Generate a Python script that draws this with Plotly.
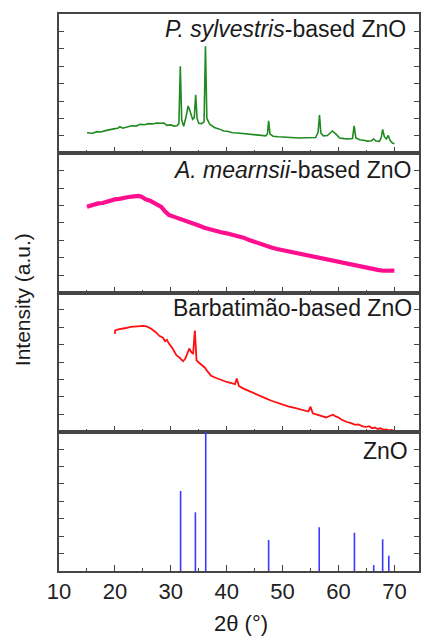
import plotly.graph_objects as go
from plotly.subplots import make_subplots

# ---------------- data (arbitrary intensity units, 0-8 per panel) ----
green_x = [15.0, 16.0, 16.8, 17.5, 18.3, 19.0, 19.8, 20.5, 20.9, 21.4, 22.2, 23.0, 23.8, 24.5, 25.3, 26.0,
           26.8, 27.5, 28.2, 28.8, 29.3, 30.0, 30.6, 31.1, 31.45, 31.7, 31.95, 32.3, 32.7, 33.1, 33.5,
           33.9, 34.2, 34.45, 34.7, 35.0, 35.5, 35.95, 36.2, 36.45, 37.0, 37.8, 38.6, 39.5, 40.3, 41.0,
           42.0, 43.0, 44.0, 45.0, 46.0, 47.0, 47.3, 47.5, 47.75, 48.3, 49.2, 50.0, 51.0, 52.0, 53.0,
           54.0, 55.0, 55.9, 56.35, 56.6, 56.85, 57.3, 58.0, 58.9, 59.6, 60.2, 61.0, 61.8, 62.5, 62.8,
           63.1, 63.8, 64.5, 65.2, 65.9, 66.3, 66.7, 67.3, 67.65, 67.9, 68.2, 68.55, 68.9, 69.2, 69.6, 70.0]
green_y = [1.18, 1.15, 1.24, 1.22, 1.30, 1.33, 1.40, 1.44, 1.52, 1.44, 1.52, 1.58, 1.56, 1.66, 1.64, 1.70,
           1.68, 1.74, 1.72, 1.73, 1.60, 1.63, 1.56, 1.58, 1.70, 4.99, 1.90, 1.55, 2.05, 2.72, 2.35,
           1.95, 2.05, 3.36, 2.00, 1.72, 1.70, 1.80, 6.14, 2.00, 1.65, 1.48, 1.40, 1.28, 1.25, 1.18,
           1.16, 1.12, 1.08, 1.06, 1.02, 1.00, 1.12, 1.86, 1.10, 0.98, 0.95, 0.93, 0.92, 0.91, 0.88,
           0.89, 0.88, 0.90, 1.20, 2.20, 1.15, 1.00, 1.02, 1.28, 1.08, 0.88, 0.84, 0.82, 0.85, 1.57,
           0.88, 0.78, 0.75, 0.70, 0.72, 0.82, 0.70, 0.68, 0.90, 1.37, 0.95, 0.82, 1.02, 0.75, 0.60, 0.54]

pink_x = [15.0, 15.5, 16.2, 17.0, 17.8, 18.5, 19.3, 20.0, 20.8, 21.5, 22.2, 23.0, 23.6, 24.2, 24.8,
          25.5, 26.3, 27.0, 27.6, 28.3, 29.0, 29.7, 30.5, 31.3, 32.0, 33.0, 34.0, 35.0, 36.0, 37.0,
          38.0, 39.0, 40.0, 41.0, 42.0, 43.0, 44.0, 45.0, 46.0, 47.0, 48.0, 49.0, 50.0, 51.0, 52.0,
          53.0, 54.0, 55.0, 56.0, 57.0, 58.0, 59.0, 60.0, 61.0, 62.0, 63.0, 64.0, 65.0, 66.0, 67.0,
          68.0, 69.0, 70.0]
pink_y = [4.93, 4.98, 5.05, 5.12, 5.14, 5.22, 5.26, 5.35, 5.38, 5.45, 5.47, 5.51, 5.56, 5.55, 5.50,
          5.35, 5.28, 5.15, 5.05, 4.92, 4.65, 4.45, 4.36, 4.28, 4.20, 4.08, 3.95, 3.85, 3.72, 3.62,
          3.55, 3.46, 3.40, 3.33, 3.23, 3.15, 3.02, 2.90, 2.80, 2.70, 2.58, 2.50, 2.43, 2.36, 2.30,
          2.24, 2.18, 2.10, 2.04, 1.96, 1.90, 1.83, 1.74, 1.68, 1.60, 1.54, 1.48, 1.42, 1.35, 1.30,
          1.25, 1.24, 1.26]

red_x = [20.0, 20.05, 20.6, 21.3, 22.0, 22.8, 23.5, 24.3, 25.1, 25.8, 26.5, 27.2, 28.0, 28.6, 28.95,
         29.3, 29.7, 30.3, 31.0, 31.6, 32.2, 32.6, 33.0, 33.3, 33.7, 34.0, 34.3, 34.6, 35.0, 35.5,
         36.1, 36.6, 37.2, 38.0, 39.0, 40.0, 41.0, 41.5, 41.8, 42.2, 43.0, 44.0, 45.0, 46.0, 47.0,
         48.0, 49.0, 50.0, 51.0, 52.0, 53.0, 54.0, 54.6, 55.0, 55.4, 56.0, 57.0, 57.8, 58.5, 59.0,
         59.5, 60.0, 60.5, 61.0, 61.5, 62.0, 62.5, 63.0, 63.5, 64.0, 64.5, 65.0, 65.5, 66.0, 66.5,
         67.0, 67.5, 68.0, 68.5, 69.0, 69.5, 70.0]
red_y = [5.62, 5.82, 5.88, 5.94, 5.96, 6.02, 6.05, 6.07, 6.08, 6.04, 5.92, 5.75, 5.50, 5.40, 5.20,
         5.28, 5.05, 4.80, 4.40, 4.25, 4.05, 4.20, 4.50, 4.78, 4.55, 4.50, 5.82, 4.10, 3.98, 3.86,
         3.68, 3.45, 3.22, 3.10, 2.96, 2.86, 2.78, 2.74, 3.06, 2.62, 2.48, 2.33, 2.18, 2.05, 1.92,
         1.78, 1.66, 1.56, 1.46, 1.38, 1.30, 1.22, 1.16, 1.44, 1.06, 1.00, 0.88, 0.82, 0.92, 0.98,
         0.88, 0.82, 0.70, 0.62, 0.56, 0.52, 0.48, 0.40, 0.42, 0.34, 0.30, 0.28, 0.32, 0.20, 0.24,
         0.16, 0.20, 0.12, 0.14, 0.08, 0.10, 0.04]

ref_pos = [31.75, 34.4, 36.25, 47.5, 56.55, 62.85, 66.3, 67.9, 69.0]
ref_int = [4.60, 3.37, 8.00, 1.78, 2.51, 2.20, 0.34, 1.82, 0.88]

x_ticks = [10, 20, 30, 40, 50, 60, 70]
labels = ["<i>P. sylvestris</i>-based ZnO", "<i>A. mearnsii</i>-based ZnO",
          "Barbatimão-based ZnO", "ZnO"]

# ---------------- figure ----------------
W, H = 421, 636
ML, MR, MT, MB = 59, 0, 14, 65
PW, PH = W - ML - MR, H - MT - MB

fig = make_subplots(rows=4, cols=1, shared_xaxes=True, vertical_spacing=0)

fig.add_trace(go.Scatter(x=green_x, y=green_y, mode="lines",
                         line=dict(color="#1f8a1f", width=1.6)), row=1, col=1)
fig.add_trace(go.Scatter(x=pink_x, y=pink_y, mode="lines",
                         line=dict(color="#ff0f8f", width=4.2)), row=2, col=1)
fig.add_trace(go.Scatter(x=red_x, y=red_y, mode="lines",
                         line=dict(color="#ff1010", width=1.8)), row=3, col=1)

sx, sy = [], []
for p, v in zip(ref_pos, ref_int):
    sx += [p, p, None]
    sy += [0, v, None]
fig.add_trace(go.Scatter(x=sx, y=sy, mode="lines",
                         line=dict(color="#3a3aff", width=1.6)), row=4, col=1)

axcol = "#454545"
font = "Liberation Sans, Arial, sans-serif"
for r in range(1, 5):
    fig.update_xaxes(row=r, col=1, range=[10, 74.4], showline=True, linecolor=axcol, linewidth=1.6,
                     mirror=True, ticks="inside", ticklen=6, tickwidth=1.2, tickcolor=axcol,
                     tickvals=x_ticks, showgrid=False, zeroline=False,
                     minor=dict(dtick=5, tick0=0, ticks="inside", ticklen=3, tickwidth=1.2,
                                tickcolor=axcol, showgrid=False),
                     showticklabels=(r == 4),
                     tickfont=dict(family=font, size=22, color="#222222"))
    fig.update_yaxes(row=r, col=1, range=[0, 8], showline=True, linecolor=axcol, linewidth=1.6,
                     mirror="ticks", ticks="inside", ticklen=5, tickwidth=1.2, tickcolor=axcol,
                     dtick=1, showticklabels=False, showgrid=False, zeroline=False)

def px2paper_x(px):
    return (px - ML) / PW

def py2paper_y(py):
    return (H - MB - py) / PH

label_pos = [(410, 29.5), (416, 169.5), (416, 308), (412, 450.5)]
anns = []
for text, (px, py) in zip(labels, label_pos):
    anns.append(dict(text=text, xref="paper", yref="paper", x=px2paper_x(px), y=py2paper_y(py),
                     xanchor="right", yanchor="middle", showarrow=False,
                     font=dict(family=font, size=23, color="#1a1a1a")))
anns.append(dict(text="2θ (°)", xref="paper", yref="paper", x=px2paper_x(242), y=py2paper_y(623),
                 xanchor="center", yanchor="middle", showarrow=False,
                 font=dict(family=font, size=22, color="#1a1a1a")))
anns.append(dict(text="Intensity (a.u.)", xref="paper", yref="paper", x=px2paper_x(22),
                 y=py2paper_y(300), xanchor="center", yanchor="middle", textangle=-90,
                 showarrow=False, font=dict(family=font, size=21, color="#1a1a1a")))

fig.update_layout(width=W, height=H, margin=dict(l=ML, r=MR, t=MT, b=MB, pad=0),
                  plot_bgcolor="white", paper_bgcolor="white", showlegend=False,
                  annotations=anns)

fig.write_html("out.html")
